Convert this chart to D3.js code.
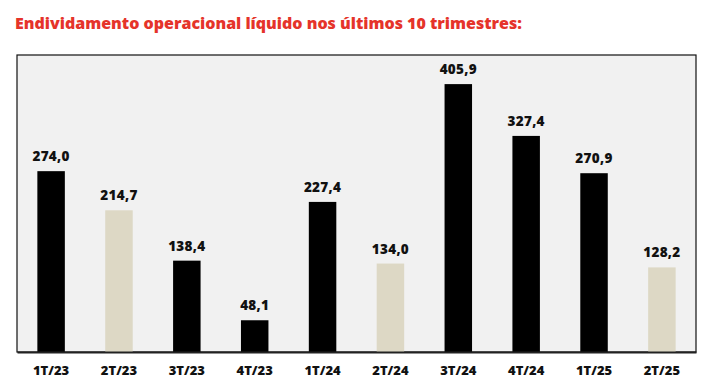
<!DOCTYPE html>
<html>
<head>
<meta charset="utf-8">
<script src="https://cdn.jsdelivr.net/npm/d3@7"></script>
<style>
  body { margin: 0; background: #fff; }
  svg { display: block; font-family: "Open Sans", "DejaVu Sans", sans-serif; }
</style>
</head>
<body>
<div id="plot"></div>
<script>
const quarters = ["1T/23", "2T/23", "3T/23", "4T/23", "1T/24", "2T/24", "3T/24", "4T/24", "1T/25", "2T/25"];
const debt = [274.0, 214.7, 138.4, 48.1, 227.4, 134.0, 405.9, 327.4, 270.9, 128.2];

const w = 723;
const h = 392;
const box = {left: 17, top: 55, right: 696, bottom: 352};

const svg = d3.select("#plot")
  .append("svg")
  .attr("width", w)
  .attr("height", h);

svg.append("text")
  .attr("x", 15)
  .attr("y", 29)
  .attr("fill", "#e5332a")
  .attr("font-size", 16)
  .attr("font-weight", 800)
  .text("Endividamento operacional líquido nos últimos 10 trimestres:");

//plot background
svg.append("rect")
  .attr("x", box.left)
  .attr("y", box.top)
  .attr("width", box.right - box.left)
  .attr("height", box.bottom - box.top)
  .attr("fill", "#f1f1f1")
  .attr("stroke", "#111")
  .attr("stroke-width", 1.2);

const x = d3.scaleBand()
  .domain(quarters)
  .range([box.left, box.right])
  .paddingInner(0.595)
  .paddingOuter(0.3);

const y = d3.scaleLinear()
  .domain([0, 450])
  .range([box.bottom, box.top]);

const data = quarters.map((q, i) => ({q: q, v: debt[i]}));
const fmt = v => v.toFixed(1).replace(".", ",");

svg.append("g")
  .selectAll("rect")
  .data(data)
  .enter()
  .append("rect")
  .attr("x", d => x(d.q))
  .attr("y", d => y(d.v))
  .attr("width", x.bandwidth())
  .attr("height", d => y(0) - y(d.v))
  .attr("fill", d => d.q.startsWith("2T") ? "#ddd8c5" : "#000");

svg.append("g")
  .selectAll("text")
  .data(data)
  .enter()
  .append("text")
  .attr("x", d => x(d.q) + x.bandwidth() / 2)
  .attr("y", d => y(d.v) - 10)
  .attr("text-anchor", "middle")
  .attr("font-size", 13.5)
  .attr("font-weight", 800)
  .attr("letter-spacing", 0.3)
  .attr("fill", "#111")
  .text(d => fmt(d.v));

//bottom axis
const axis = svg.append("g")
  .attr("transform", "translate(0," + box.bottom + ")")
  .call(d3.axisBottom(x).tickSize(0).tickPadding(14));
axis.select(".domain").attr("stroke", "#222").attr("stroke-width", 2);
axis.selectAll("text")
  .attr("font-size", 13)
  .attr("font-weight", 800)
  .attr("fill", "#111")
  .attr("font-family", "\"Open Sans\", sans-serif");
</script>
</body>
</html>
